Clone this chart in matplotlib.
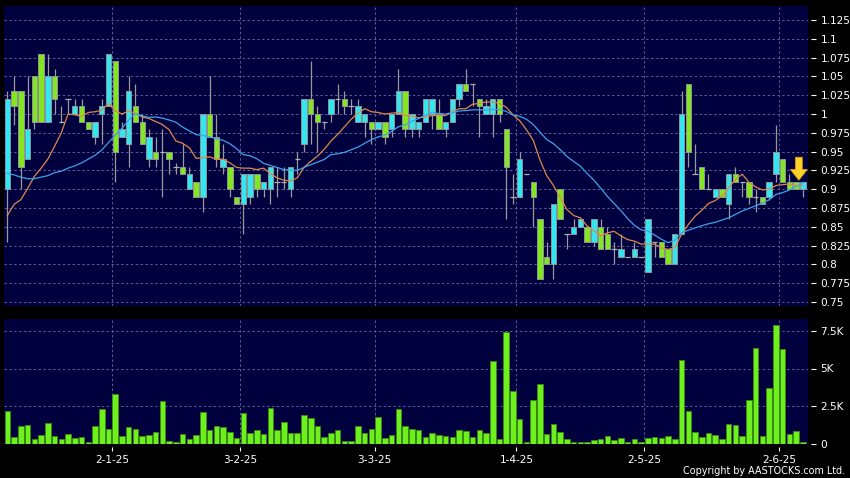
import numpy as np
import matplotlib
matplotlib.use("Agg")
import matplotlib.pyplot as plt

# ---------------- data ----------------
opens = [0.90, 1.03, 1.03, 0.94, 1.05, 1.08, 0.99, 1.05, 0.99, 1.02,
         1.00, 1.01, 0.99, 0.97, 1.00, 1.01, 1.07, 0.97, 0.96, 1.01,
         0.99, 0.94, 0.95, 0.95, 0.95, 0.93, 0.93, 0.90, 0.91, 0.89,
         1.00, 0.97, 0.93, 0.93, 0.89, 0.88, 0.89, 0.92, 0.90, 0.90,
         0.91, 0.91, 0.90, 0.94, 0.96, 1.02, 1.00, 0.99, 1.00, 1.02,
         1.02, 1.01, 0.99, 0.99, 0.99, 0.98, 0.99, 0.98, 1.00, 1.03,
         0.98, 0.98, 0.99, 1.00, 1.00, 0.98, 0.99, 1.02, 1.04, 1.04,
         1.02, 1.00, 1.00, 1.02, 0.98, 0.89, 0.89, 0.92, 0.91, 0.86,
         0.81, 0.80, 0.90, 0.84, 0.84, 0.85, 0.85, 0.83, 0.85, 0.84,
         0.82, 0.81, 0.81, 0.81, 0.81, 0.79, 0.83, 0.83, 0.82, 0.80,
         0.84, 1.04, 0.92, 0.93, 0.90, 0.89, 0.90, 0.88, 0.92, 0.91,
         0.91, 0.89, 0.89, 0.89, 0.92, 0.94, 0.91, 0.91, 0.90]
highs = [1.03, 1.05, 1.03, 1.05, 1.05, 1.08, 1.08, 1.06, 1.01, 1.02,
         1.02, 1.02, 0.99, 0.99, 1.02, 1.08, 1.07, 0.99, 1.05, 1.04,
         1.00, 0.98, 0.97, 0.98, 0.95, 0.935, 0.96, 0.93, 0.91, 1.00,
         1.05, 1.00, 0.96, 0.93, 0.89, 0.92, 0.92, 0.92, 0.91, 0.93,
         0.93, 0.93, 0.93, 0.95, 1.02, 1.07, 1.01, 0.99, 1.02, 1.04,
         1.03, 1.02, 1.02, 1.00, 0.99, 0.99, 0.99, 1.00, 1.06, 1.03,
         1.00, 0.99, 1.02, 1.02, 1.02, 0.99, 1.02, 1.04, 1.06, 1.04,
         1.02, 1.02, 1.02, 1.02, 0.98, 0.92, 0.95, 0.92, 0.91, 0.86,
         0.83, 0.88, 0.90, 0.84, 0.86, 0.86, 0.85, 0.86, 0.86, 0.85,
         0.83, 0.84, 0.81, 0.83, 0.81, 0.86, 0.83, 0.83, 0.82, 0.84,
         1.03, 1.04, 0.96, 0.93, 0.92, 0.90, 0.90, 0.92, 0.93, 0.91,
         0.91, 0.90, 0.89, 0.91, 0.985, 0.94, 0.92, 0.91, 0.91]
lows = [0.83, 0.985, 0.90, 0.94, 0.98, 0.99, 0.99, 1.00, 0.99, 1.00,
        1.00, 0.99, 0.98, 0.96, 0.96, 1.01, 0.91, 0.97, 0.93, 0.99,
        0.96, 0.93, 0.93, 0.89, 0.92, 0.92, 0.92, 0.90, 0.89, 0.87,
        0.97, 0.93, 0.92, 0.89, 0.88, 0.84, 0.88, 0.89, 0.89, 0.88,
        0.89, 0.90, 0.89, 0.92, 0.95, 0.96, 0.95, 0.98, 0.99, 1.00,
        1.00, 1.00, 0.99, 0.97, 0.96, 0.98, 0.96, 0.97, 1.00, 0.97,
        0.97, 0.97, 0.99, 0.98, 0.98, 0.97, 0.99, 1.01, 1.03, 1.01,
        0.97, 1.00, 0.97, 0.99, 0.86, 0.88, 0.89, 0.92, 0.85, 0.78,
        0.80, 0.78, 0.86, 0.82, 0.84, 0.85, 0.83, 0.825, 0.82, 0.82,
        0.80, 0.81, 0.81, 0.81, 0.81, 0.79, 0.81, 0.81, 0.80, 0.80,
        0.84, 0.93, 0.92, 0.90, 0.90, 0.89, 0.89, 0.86, 0.91, 0.89,
        0.88, 0.87, 0.88, 0.885, 0.91, 0.91, 0.90, 0.90, 0.89]
closes = [1.02, 1.01, 0.93, 0.98, 0.99, 0.99, 1.05, 1.02, 0.99, 1.02,
          1.01, 0.99, 0.98, 0.99, 1.01, 1.08, 0.95, 0.98, 1.03, 0.99,
          0.96, 0.97, 0.94, 0.95, 0.94, 0.93, 0.92, 0.92, 0.89, 1.00,
          0.97, 0.94, 0.94, 0.90, 0.88, 0.92, 0.92, 0.90, 0.91, 0.93,
          0.91, 0.91, 0.93, 0.94, 1.02, 1.00, 0.99, 0.99, 1.02, 1.02,
          1.01, 1.01, 1.01, 1.00, 0.98, 0.99, 0.97, 1.00, 1.03, 0.98,
          1.00, 0.99, 1.02, 1.02, 0.98, 0.99, 1.02, 1.04, 1.03, 1.04,
          1.01, 1.01, 1.02, 1.00, 0.93, 0.89, 0.94, 0.92, 0.89, 0.78,
          0.80, 0.88, 0.86, 0.84, 0.85, 0.86, 0.83, 0.86, 0.82, 0.82,
          0.82, 0.82, 0.81, 0.82, 0.81, 0.86, 0.83, 0.81, 0.80, 0.84,
          1.00, 0.95, 0.92, 0.90, 0.90, 0.90, 0.89, 0.92, 0.91, 0.91,
          0.89, 0.89, 0.88, 0.91, 0.95, 0.91, 0.90, 0.90, 0.91]
volumes_k = [2.2, 0.42, 1.2, 1.22, 0.29, 0.58, 1.38, 0.47, 0.31, 0.64,
             0.36, 0.42, 0.07, 1.16, 2.27, 1.0, 3.33, 0.51, 1.09, 1.0,
             0.47, 0.56, 0.76, 2.82, 0.2, 0.13, 0.62, 0.29, 0.6, 2.11,
             0.91, 1.18, 1.13, 0.78, 0.4, 2.02, 0.69, 0.89, 0.62, 2.4,
             0.87, 1.44, 0.69, 0.71, 1.87, 1.69, 1.16, 0.44, 0.67, 0.89,
             0.2, 0.16, 1.2, 0.73, 1.0, 1.8, 0.38, 0.56, 2.31, 1.18,
             0.96, 0.89, 0.42, 0.73, 0.58, 0.49, 0.42, 0.87, 0.82, 0.42,
             0.89, 0.69, 5.53, 0.27, 7.44, 3.47, 1.62, 0.07, 2.93, 3.98,
             0.64, 1.27, 0.78, 0.27, 0.11, 0.11, 0.11, 0.22, 0.33, 0.49,
             0.24, 0.36, 0.13, 0.29, 0.07, 0.38, 0.44, 0.36, 0.47, 0.33,
             5.6, 2.16, 0.8, 0.44, 0.71, 0.6, 0.27, 1.27, 1.22, 0.53,
             2.93, 6.36, 0.53, 3.67, 7.87, 6.31, 0.62, 0.84, 0.07]
# moving-average values before enough in-chart history exists
ma10_head = [0.865, 0.880, 0.886, 0.901, 0.917, 0.928, 0.940, 0.957, 0.975]
ma20_head = [0.921, 0.919, 0.916, 0.914, 0.914, 0.916, 0.918, 0.922, 0.924, 0.928,
             0.931, 0.935, 0.940, 0.945, 0.952, 0.962, 0.972, 0.981, 0.992]
date_labels = ["2-1-25", "3-2-25", "3-3-25", "1-4-25", "2-5-25", "2-6-25"]
date_index = [15, 34, 54, 75, 94, 114]
price_ticks = [0.75, 0.775, 0.8, 0.825, 0.85, 0.875, 0.9, 0.925, 0.95, 0.975,
               1.0, 1.025, 1.05, 1.075, 1.1, 1.125]
price_tick_labels = ["0.75", "0.775", "0.8", "0.825", "0.85", "0.875", "0.9", "0.925",
                     "0.95", "0.975", "1", "1.025", "1.05", "1.075", "1.1", "1.125"]
vol_ticks = [0, 2500, 5000, 7500]
vol_tick_labels = ["0", "2.5K", "5K", "7.5K"]

# ---------------- derived ----------------
o = np.array(opens); h = np.array(highs); l = np.array(lows); c = np.array(closes)
v = np.array(volumes_k) * 1000
n = len(c)
x = np.arange(n)

def sma(vals, w, head):
    out = np.empty(len(vals))
    out[:len(head)] = head
    for i in range(len(head), len(vals)):
        out[i] = vals[i - w + 1:i + 1].mean()
    return out

ma10 = sma(c, 10, ma10_head)
ma20 = sma(c, 20, ma20_head)

# ---------------- style ----------------
BG = "#00003f"
GRID = "#5c5c96"
CYAN = "#33e6f0"
GREEN = "#84e61e"
EDGE = "#8a9898"
WICK = "#9a9a9a"

fig = plt.figure(figsize=(8.5, 4.78), dpi=100, facecolor="black")
W, H = 850.0, 478.0
ax1 = fig.add_axes([4 / W, 1 - 306 / H, 804 / W, 300 / H])
ax2 = fig.add_axes([4 / W, 1 - 443.5 / H, 804 / W, 124.5 / H])

grid_pos = [d + 0.5 for d in date_index]

for ax in (ax1, ax2):
    ax.set_facecolor(BG)
    for s in ax.spines.values():
        s.set_visible(False)
    ax.set_xlim(-0.5, n - 0.24)
    ax.yaxis.tick_right()
    ax.spines["right"].set_position(("outward", 2.5))
    ax.tick_params(axis="y", colors="white", labelsize=7.6, length=3.5,
                   width=0.8, pad=3)
    for gx in grid_pos:
        ax.axvline(gx, color=GRID, lw=0.7, ls=(0, (2.5, 2.5)), zorder=0.5)

# ----- price panel -----
ax1.set_ylim(0.7447, 1.1436)
ax1.set_yticks(price_ticks)
ax1.set_yticklabels(price_tick_labels)
for ty in price_ticks:
    ax1.axhline(ty, color=GRID, lw=0.7, ls=(0, (2.5, 2.5)), zorder=0.5)
ax1.set_xticks([])

ax1.vlines(x, l, h, color=WICK, lw=0.9, zorder=1)
up = c > o
down = c < o
flat = c == o
bw = 0.8
ax1.bar(x[up], (c - o)[up], bottom=o[up], width=bw, color=CYAN,
        edgecolor=EDGE, linewidth=0.7, zorder=2)
ax1.bar(x[down], (o - c)[down], bottom=c[down], width=bw, color=GREEN,
        edgecolor=EDGE, linewidth=0.7, zorder=2)
ax1.hlines(c[flat], x[flat] - bw / 2, x[flat] + bw / 2, color="#b0b0b0",
           lw=0.9, zorder=2)

ax1.plot(x, ma10, color="#e0884a", lw=0.9, zorder=3)
ax1.plot(x, ma20, color="#3fa2ea", lw=0.9, zorder=3)

# marker arrow at latest price
arrow_x = n - 1.6
ax1.annotate("", xy=(arrow_x, 0.912), xytext=(arrow_x, 0.9425),
             arrowprops=dict(arrowstyle="simple,head_length=0.7,head_width=1.1,tail_width=0.45",
                             fc="#ffd22a", ec="#e89a00", lw=0.6,
                             mutation_scale=11, shrinkA=0, shrinkB=0),
             zorder=5)

# ----- volume panel -----
ax2.set_ylim(0, 8300)
ax2.set_yticks(vol_ticks)
ax2.set_yticklabels(vol_tick_labels)
for ty in vol_ticks[1:]:
    ax2.axhline(ty, color=GRID, lw=0.7, ls=(0, (2.5, 2.5)), zorder=0.5)
ax2.bar(x, v, width=0.82, color="#6ef01c", edgecolor="#3a8a14",
        linewidth=0.6, zorder=2)
ax2.set_xticks(grid_pos)
ax2.set_xticklabels(date_labels)
ax2.spines["bottom"].set_position(("outward", 2.5))
ax2.tick_params(axis="x", colors="white", labelsize=7.6, length=3,
                width=0.8, pad=3)

fig.text(845 / W, 1 - 471 / H, "Copyright by AASTOCKS.com Ltd.", color="white",
         fontsize=6.9, ha="right", va="center")

fig.savefig("out.png", dpi=100, facecolor="black")
